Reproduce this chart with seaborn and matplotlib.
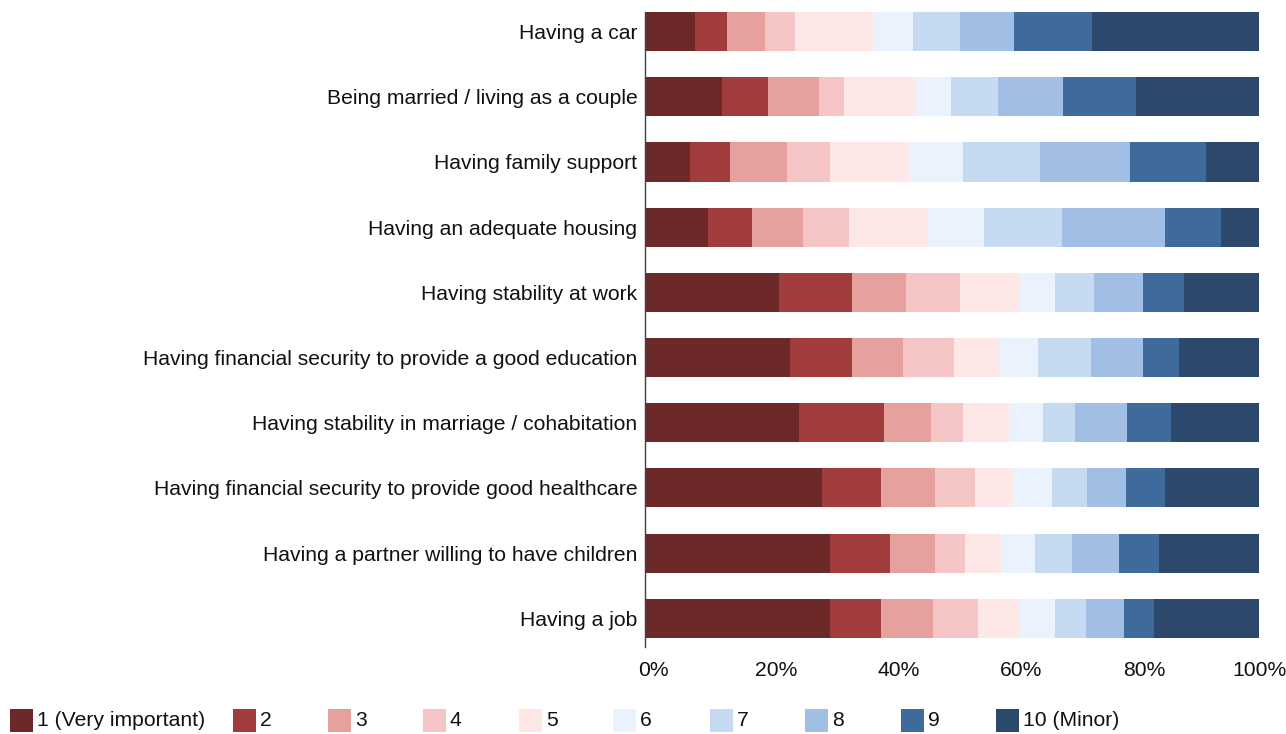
import matplotlib
matplotlib.use("Agg")
import matplotlib.pyplot as plt
import matplotlib.transforms as mtransforms
from matplotlib.patches import Rectangle
import seaborn as sns
import pandas as pd
import numpy as np

items = [
    "Having a car",
    "Being married / living as a couple",
    "Having family support",
    "Having an adequate housing",
    "Having stability at work",
    "Having financial security to provide a good education",
    "Having stability in marriage / cohabitation",
    "Having financial security to provide good healthcare",
    "Having a partner willing to have children",
    "Having a job",
]
levels = ["1 (Very important)", "2", "3", "4", "5", "6", "7", "8", "9", "10 (Minor)"]

# share (%) of each rating, one value per item (same order as items)
r1 = [8.2, 12.6, 7.3, 10.3, 21.8, 23.6, 25.0, 28.9, 30.2, 30.1]
r2 = [5.2, 7.5, 6.6, 7.1, 11.9, 10.1, 13.9, 9.6, 9.7, 8.4]
r3 = [6.2, 8.2, 9.2, 8.3, 8.8, 8.3, 7.6, 8.7, 7.3, 8.4]
r4 = [4.9, 4.1, 7.0, 7.5, 8.8, 8.4, 5.3, 6.5, 4.9, 7.3]
r5 = [12.7, 11.6, 12.9, 12.7, 9.6, 7.4, 7.5, 6.2, 5.8, 6.8]
r6 = [6.4, 5.8, 8.8, 9.3, 5.9, 6.2, 5.5, 6.4, 5.6, 5.8]
r7 = [7.7, 7.7, 12.5, 12.7, 6.3, 8.6, 5.2, 5.7, 6.0, 5.0]
r8 = [8.8, 10.6, 14.7, 16.8, 8.0, 8.5, 8.5, 6.3, 7.7, 6.2]
r9 = [12.7, 11.9, 12.4, 9.1, 6.7, 5.9, 7.2, 6.4, 6.5, 4.9]
r10 = [27.2, 20.0, 8.6, 6.2, 12.2, 13.0, 14.3, 15.3, 16.3, 17.1]

colors = ["#6B2A29", "#A03D3C", "#E6A19F", "#F5C5C5", "#FDE7E7",
          "#EAF3FD", "#C5D9F1", "#A1BEE4", "#3E6A9C", "#2C486D"]

xticks = [0, 20, 40, 60, 80, 100]
xticklabels = ["0%", "20%", "40%", "60%", "80%", "100%"]

series = [r1, r2, r3, r4, r5, r6, r7, r8, r9, r10]
rows = []
for lev, vals in zip(levels, series):
    for it, v in zip(items, vals):
        rows.append({"item": it, "level": lev, "share": v})
df = pd.DataFrame(rows)
df["level"] = pd.Categorical(df["level"], categories=levels, ordered=True)
df["item"] = pd.Categorical(df["item"], categories=items, ordered=True)
df = df.sort_values(["item", "level"])
df["cum"] = df.groupby("item", observed=True)["share"].cumsum()
# normalise so each bar ends exactly at 100%
tot = df.groupby("item", observed=True)["share"].transform("sum")
df["cum"] = df["cum"] / tot * 100

sns.set_theme(style="white")
plt.rcParams["font.family"] = ["Liberation Sans", "DejaVu Sans"]

FS = 15.2
W, H = 1286, 734
fig = plt.figure(figsize=(W / 100, H / 100), dpi=100)
ax = fig.add_axes([645 / W, 1 - 647 / H, (1259 - 645) / W, (647 - 12) / H])

for lev, col in reversed(list(zip(levels, colors))):
    sub = df[df["level"] == lev]
    sns.barplot(data=sub, x="cum", y="item", order=items, color=col,
                saturation=1, width=0.6, orient="h", errorbar=None,
                linewidth=0, ax=ax)

ax.set_xlim(0, 100)
ax.set_ylim(9.44, -0.3)
ax.set_xlabel("")
ax.set_ylabel("")
ax.set_xticks(xticks)
ax.set_xticklabels(xticklabels, fontsize=FS, color="#111111")
ax.tick_params(axis="x", length=0, pad=10)
ax.tick_params(axis="y", length=0, pad=5.5, labelsize=FS, labelcolor="#111111")
for s in ["top", "right", "bottom"]:
    ax.spines[s].set_visible(False)
ax.spines["left"].set_color("#404040")
ax.spines["left"].set_linewidth(1.0)
ax.grid(False)

# small shift of tick labels as in the reference
for i, lab in enumerate(ax.get_xticklabels()):
    dx = 8 if i < len(xticks) - 1 else 0
    lab.set_transform(lab.get_transform() + mtransforms.ScaledTranslation(dx / 100, 0, fig.dpi_scale_trans))

# legend laid out in one row at the bottom
leg_x = [10, 233, 328, 423, 519, 613, 710, 805, 901, 996]
for x0, lev, col in zip(leg_x, levels, colors):
    fig.add_artist(Rectangle((x0 / W, 1 - 732 / H), 23 / W, 23 / H,
                             transform=fig.transFigure, facecolor=col,
                             edgecolor="none"))
    fig.text((x0 + 27) / W, 1 - 721 / H, lev, fontsize=FS, color="#111111",
             ha="left", va="center")

fig.savefig("out.png", dpi=100)
